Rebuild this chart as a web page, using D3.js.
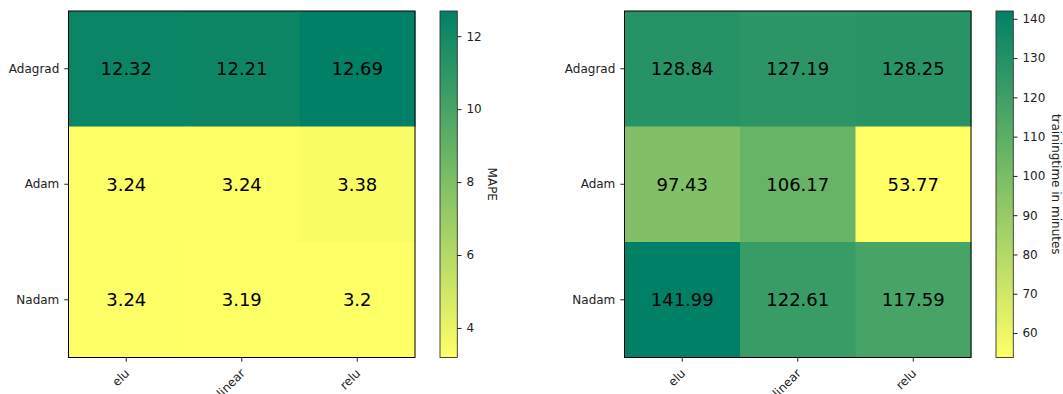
<!DOCTYPE html>
<html>
<head>
<meta charset="utf-8">
<script src="https://cdn.jsdelivr.net/npm/d3@7"></script>
<style>
  html, body { margin: 0; padding: 0; background: #fff; }
  svg { display: block; font-family: "DejaVu Sans", sans-serif; }
</style>
</head>
<body>
<svg id="chart" width="1063" height="394"></svg>
<script>
// Optimizer x activation comparison
const optimizers = ["Adagrad", "Adam", "Nadam"];
const activations = ["elu", "linear", "relu"];

const mapeValues = [
  [12.32, 12.21, 12.69],
  [3.24, 3.24, 3.38],
  [3.24, 3.19, 3.2]
];
const trainingMinutes = [
  [128.84, 127.19, 128.25],
  [97.43, 106.17, 53.77],
  [141.99, 122.61, 117.59]
];
const mapeTicks = [4, 6, 8, 10, 12];
const minuteTicks = [60, 70, 80, 90, 100, 110, 120, 130, 140];

const svg = d3.select("#chart");

// reversed "summer" colormap: low = yellow, high = teal green
const summerR = d3.interpolateRgb("#ffff66", "#008066");

function heatmap(cfg) {
  const { values, x0, y0, w, h, cbX, cbW, ticks, label, labelX } = cfg;
  const flat = values.flat();
  const lo = d3.min(flat), hi = d3.max(flat);
  const color = d3.scaleSequential(summerR).domain([lo, hi]);

  const x = d3.scaleBand().domain(activations).range([x0, x0 + w]);
  const y = d3.scaleBand().domain(optimizers).range([y0, y0 + h]);

  const g = svg.append("g");
  const cells = [];
  values.forEach((row, i) => row.forEach((v, j) => cells.push({ r: optimizers[i], c: activations[j], v })));

  g.selectAll("rect.cell").data(cells).join("rect")
    .attr("class", "cell")
    .attr("x", d => x(d.c)).attr("y", d => y(d.r))
    .attr("width", x.bandwidth() + 0.5).attr("height", y.bandwidth() + 0.5)
    .attr("fill", d => color(d.v));

  g.selectAll("text.val").data(cells).join("text")
    .attr("class", "val")
    .attr("x", d => x(d.c) + x.bandwidth() / 2)
    .attr("y", d => y(d.r) + y.bandwidth() / 2)
    .attr("text-anchor", "middle").attr("dominant-baseline", "central")
    .attr("font-size", 18).attr("fill", "#000")
    .text(d => String(d.v));

  g.append("rect").attr("x", x0).attr("y", y0).attr("width", w).attr("height", h)
    .attr("fill", "none").attr("stroke", "#000").attr("stroke-width", 1);

  // y axis
  const yAx = g.append("g").attr("transform", `translate(${x0},0)`)
    .call(d3.axisLeft(y).tickSize(4.2).tickPadding(5));
  yAx.select(".domain").remove();
  yAx.selectAll("text").attr("font-size", 12).attr("fill", "#222").attr("font-family", "DejaVu Sans");
  yAx.selectAll("line").attr("stroke", "#222");

  // x axis with rotated labels
  const xAx = g.append("g").attr("transform", `translate(0,${y0 + h})`)
    .call(d3.axisBottom(x).tickSize(4.2));
  xAx.select(".domain").remove();
  xAx.selectAll("line").attr("stroke", "#222");
  xAx.selectAll("text")
    .attr("font-size", 12).attr("fill", "#222").attr("font-family", "DejaVu Sans")
    .attr("text-anchor", "end").attr("dy", null).attr("y", 0)
    .attr("transform", "translate(4,16.5) rotate(-45)");

  // colorbar
  const cb = d3.scaleLinear().domain([lo, hi]).range([y0 + h, y0]);
  const gradId = "grad" + cbX;
  const grad = svg.append("defs").append("linearGradient").attr("id", gradId)
    .attr("x1", 0).attr("y1", 1).attr("x2", 0).attr("y2", 0);
  d3.range(0, 1.0001, 0.1).forEach(t => {
    grad.append("stop").attr("offset", t).attr("stop-color", summerR(t));
  });
  g.append("rect").attr("x", cbX).attr("y", y0).attr("width", cbW).attr("height", h)
    .attr("fill", `url(#${gradId})`).attr("stroke", "#333").attr("stroke-width", 0.9);

  const cAx = g.append("g").attr("transform", `translate(${cbX + cbW},0)`)
    .call(d3.axisRight(cb).tickValues(ticks).tickSize(4.2).tickPadding(5).tickFormat(d3.format("d")));
  cAx.select(".domain").remove();
  cAx.selectAll("line").attr("stroke", "#222");
  cAx.selectAll("text").attr("font-size", 12).attr("fill", "#222").attr("font-family", "DejaVu Sans");

  g.append("text")
    .attr("transform", `translate(${labelX},${y0 + h / 2}) rotate(90)`)
    .attr("text-anchor", "middle").attr("dominant-baseline", "central")
    .attr("font-size", 12).attr("fill", "#222")
    .text(label);
}

heatmap({ values: mapeValues, x0: 68.5, y0: 11, w: 346.5, h: 346.5,
  cbX: 440, cbW: 17.3, ticks: mapeTicks, label: "MAPE", labelX: 492 });
heatmap({ values: trainingMinutes, x0: 624.5, y0: 11, w: 346.5, h: 346.5,
  cbX: 996, cbW: 17.3, ticks: minuteTicks, label: "trainingtime in minutes", labelX: 1056 });
</script>
</body>
</html>
